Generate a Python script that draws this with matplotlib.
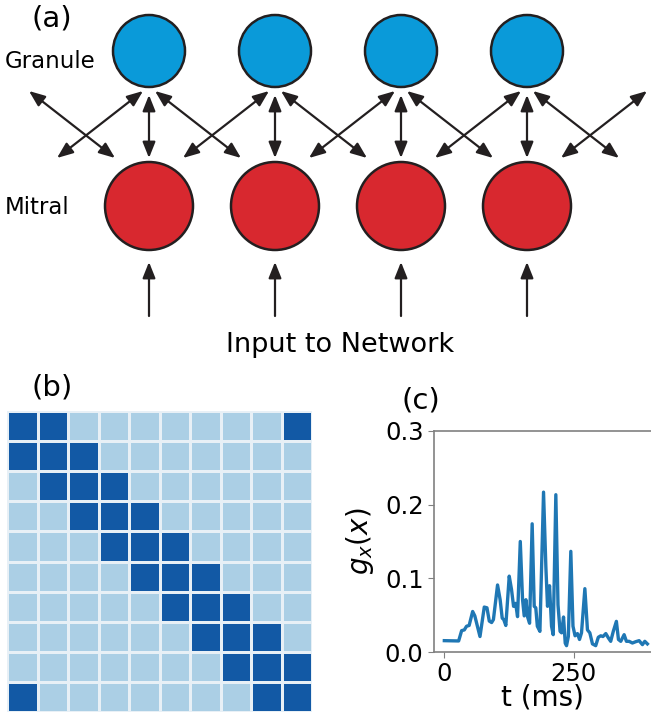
import numpy as np
import matplotlib.pyplot as plt
from matplotlib.patches import Circle, FancyArrowPatch, ArrowStyle
from matplotlib.colors import ListedColormap

# network sketch
n_cells = 4
layer_names = ['Granule', 'Mitral']
input_label = 'Input to Network'
panel_labels = ['(a)', '(b)', '(c)']

# granule -> mitral connectivity (1 = connected)
connectivity = [
    [1, 1, 0, 0, 0, 0, 0, 0, 0, 1],
    [1, 1, 1, 0, 0, 0, 0, 0, 0, 0],
    [0, 1, 1, 1, 0, 0, 0, 0, 0, 0],
    [0, 0, 1, 1, 1, 0, 0, 0, 0, 0],
    [0, 0, 0, 1, 1, 1, 0, 0, 0, 0],
    [0, 0, 0, 0, 1, 1, 1, 0, 0, 0],
    [0, 0, 0, 0, 0, 1, 1, 1, 0, 0],
    [0, 0, 0, 0, 0, 0, 1, 1, 1, 0],
    [0, 0, 0, 0, 0, 0, 0, 1, 1, 1],
    [1, 0, 0, 0, 0, 0, 0, 0, 1, 1],
]

# granule activation trace
t_ms = [0, 27.7, 33.5, 38.7, 43, 48, 54.8, 59, 69, 77.3, 82.5, 87, 91.5, 95,
        103, 108, 112, 115, 119, 125.6, 130, 134, 138, 141.7, 147, 151.4,
        154.6, 157.9, 161, 165, 170, 174, 177, 180, 185, 192, 196.5, 199.7,
        203.6, 207.5, 210.7, 215.8, 220, 224, 227, 230.7, 234, 236.5, 240,
        244.8, 249, 253, 257.7, 261.6, 265.5, 272, 277, 281.6, 286.7, 293,
        298, 302.8, 307, 312.5, 317.6, 322, 327, 333, 337, 341.5, 348, 352.4,
        357.6, 364, 370.5, 377, 383.4, 388, 393]
g_x = [0.0154, 0.0150, 0.029, 0.030, 0.035, 0.036, 0.055, 0.049, 0.021, 0.061,
       0.060, 0.042, 0.040, 0.044, 0.091, 0.071, 0.046, 0.044, 0.036, 0.103,
       0.085, 0.062, 0.066, 0.048, 0.150, 0.071, 0.049, 0.071, 0.048, 0.039,
       0.174, 0.062, 0.060, 0.035, 0.028, 0.217, 0.116, 0.062, 0.090, 0.035,
       0.0235, 0.2135, 0.064, 0.028, 0.026, 0.0475, 0.012, 0.0086, 0.021,
       0.1366, 0.035, 0.022, 0.025, 0.017, 0.026, 0.086, 0.030, 0.026, 0.011,
       0.0086, 0.020, 0.022, 0.021, 0.025, 0.019, 0.0145, 0.028, 0.0416,
       0.017, 0.0145, 0.0235, 0.0145, 0.0145, 0.0122, 0.014, 0.0154, 0.010,
       0.0145, 0.011]

W, H = 651, 714
fig = plt.figure(figsize=(W / 100, H / 100), dpi=100)

# ---- (a) circuit diagram, drawn in pixel units ----
top_h = 360
ax_a = fig.add_axes([0, 1 - top_h / H, 1, top_h / H])
ax_a.set_xlim(0, W)
ax_a.set_ylim(top_h, 0)
ax_a.axis('off')

x0, dx = 149, 126
gran_y, gran_r = 51, 36
mit_y, mit_r = 206, 44
edge = '#231f20'
head = ArrowStyle('<|-|>', head_length=0.8, head_width=0.32)
single = ArrowStyle('-|>', head_length=0.8, head_width=0.32)


def arrow(p, q, style):
    ax_a.add_patch(FancyArrowPatch(p, q, arrowstyle=style, mutation_scale=12,
                                   shrinkA=0, shrinkB=0, lw=1.6, color=edge))


for i in range(-1, n_cells + 1):
    cx = x0 + i * dx
    if 0 <= i < n_cells:
        ax_a.add_patch(Circle((cx, gran_y), gran_r, fc='#0a9ad9', ec=edge, lw=1.8, zorder=3))
        ax_a.add_patch(Circle((cx, mit_y), mit_r, fc='#d8282f', ec=edge, lw=1.8, zorder=3))
        arrow((cx, 158), (cx, 95), head)
        arrow((cx, 316), (cx, 262), single)
    if i < n_cells:
        arrow((cx + 6, 91), (cx + 92, 158), head)
    if i >= 0:
        arrow((cx - 6, 91), (cx - 92, 158), head)

ax_a.text(5, 61, layer_names[0], fontsize=16.5, va='center', ha='left')
ax_a.text(5, 208, layer_names[1], fontsize=16.5, va='center', ha='left')
ax_a.text(340, 345, input_label, fontsize=19.5, va='center', ha='center')
ax_a.text(52, 18, panel_labels[0], fontsize=21, va='center', ha='center')

# ---- (b) connectivity matrix ----
ax_b = fig.add_axes([7 / W, 1 - 712 / H, 305 / W, 301 / H])
cmap = ListedColormap(['#abcfe5', '#1259a5'])
ax_b.pcolormesh(np.array(connectivity), cmap=cmap, edgecolors='#e8f0f6', linewidth=1.0)
ax_b.set_xlim(0, 10)
ax_b.set_ylim(10, 0)
ax_b.axis('off')
fig.text(52 / W, 1 - 388 / H, panel_labels[1], fontsize=21, va='center', ha='center')

# ---- (c) activation trace ----
ax_c = fig.add_axes([434 / W, 1 - 652 / H, 217 / W, 221 / H])
ax_c.plot(t_ms, g_x, color='#1f77b4', lw=2.4)
ax_c.set_xlim(-20, 400)
ax_c.set_ylim(0, 0.3)
ax_c.set_xticks([0, 250])
ax_c.set_yticks([0.0, 0.1, 0.2, 0.3])
ax_c.set_xlabel('t (ms)', fontsize=20, labelpad=-2)
ax_c.set_ylabel(r'$g_x(x)$', fontsize=20, labelpad=6)
ax_c.tick_params(labelsize=17.5, color='#808080', length=4)
for side in ['left', 'bottom', 'top']:
    ax_c.spines[side].set_color('#808080')
    ax_c.spines[side].set_linewidth(1.2)
ax_c.spines['right'].set_visible(False)
fig.text(421 / W, 1 - 400 / H, panel_labels[2], fontsize=21, va='center', ha='center')

fig.savefig('out.png', dpi=100)
